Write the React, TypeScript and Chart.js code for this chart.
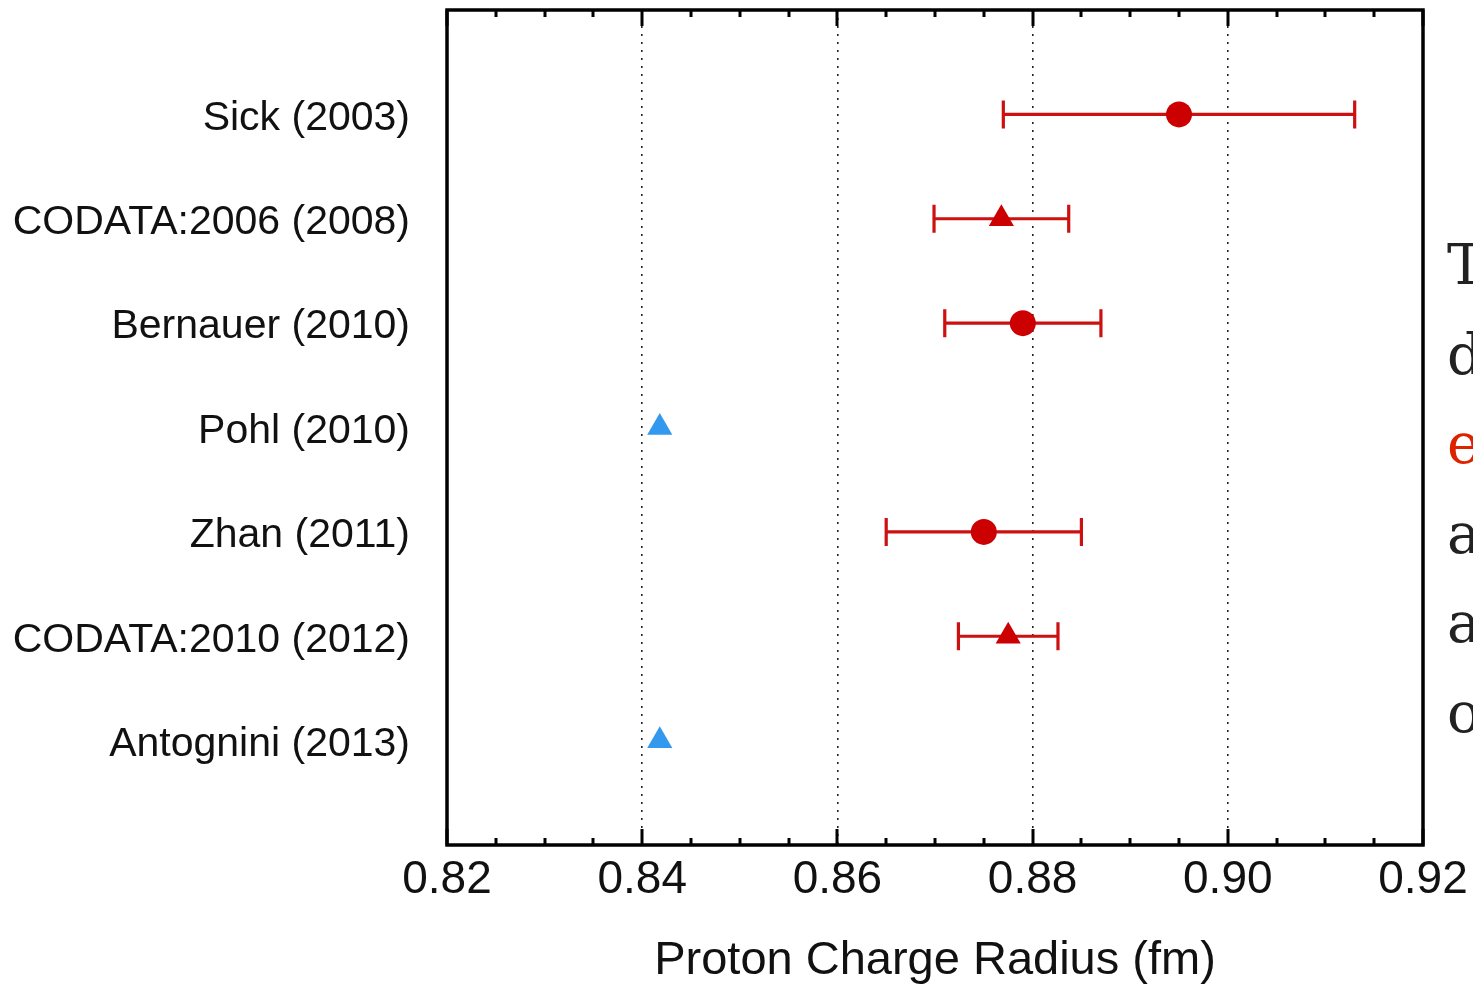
import React, { useEffect, useRef } from "react";
import { Chart, registerables } from "chart.js";

Chart.register(...registerables);

const LABELS = [
  "Sick (2003)",
  "CODATA:2006 (2008)",
  "Bernauer (2010)",
  "Pohl (2010)",
  "Zhan (2011)",
  "CODATA:2010 (2012)",
  "Antognini (2013)",
];
const RADIUS = [0.895, 0.8768, 0.879, 0.8418, 0.875, 0.8775, 0.8418];
const ERR_LOW = [0.018, 0.0069, 0.008, 0, 0.010, 0.0051, 0];
const ERR_HIGH = [0.018, 0.0069, 0.008, 0, 0.010, 0.0051, 0];
const MARKER = ["circle", "triangle", "circle", "triangle", "circle", "triangle", "triangle"];
const METHOD = ["e", "e", "e", "mu", "e", "e", "mu"];
const X_TICKS = [0.82, 0.84, 0.86, 0.88, 0.9, 0.92];

const RED = "#cc0000";
const BLUE = "#3399ee";

const framePlugin = {
  id: "frame",
  beforeDatasetsDraw(chart: any) {
    const { ctx, scales } = chart;
    const x = scales.x;
    const y = scales.y;
    ctx.save();
    ctx.strokeStyle = "#cc1111";
    ctx.lineWidth = 3.2;
    RADIUS.forEach((v, i) => {
      if (!ERR_LOW[i] && !ERR_HIGH[i]) return;
      const yy = y.getPixelForValue(i);
      const x0 = x.getPixelForValue(v - ERR_LOW[i]);
      const x1 = x.getPixelForValue(v + ERR_HIGH[i]);
      ctx.beginPath();
      ctx.moveTo(x0, yy);
      ctx.lineTo(x1, yy);
      ctx.moveTo(x0, yy - 14);
      ctx.lineTo(x0, yy + 14);
      ctx.moveTo(x1, yy - 14);
      ctx.lineTo(x1, yy + 14);
      ctx.stroke();
    });
    ctx.restore();
  },
  afterDraw(chart: any) {
    const { ctx, chartArea, scales } = chart;
    const x = scales.x;
    const { left, right, top, bottom } = chartArea;
    ctx.save();
    ctx.strokeStyle = "#000";
    ctx.lineWidth = 3;
    const min = x.min;
    const max = x.max;
    for (let k = 0; ; k++) {
      const v = min + k * 0.005;
      if (v > max + 1e-9) break;
      const px = Math.round(x.getPixelForValue(v));
      const major = k % 4 === 0;
      const len = major ? 16 : 7;
      ctx.beginPath();
      ctx.moveTo(px, top);
      ctx.lineTo(px, top + len);
      ctx.moveTo(px, bottom);
      ctx.lineTo(px, bottom - len);
      ctx.stroke();
    }
    ctx.lineWidth = 3.5;
    ctx.strokeRect(left, top, right - left, bottom - top);
    ctx.restore();
  },
};

export default function App() {
  const ref = useRef<HTMLCanvasElement | null>(null);
  useEffect(() => {
    if (!ref.current) return;
    const chart = new Chart(ref.current, {
      type: "scatter",
      data: {
        datasets: [
          {
            data: RADIUS.map((v, i) => ({ x: v, y: i })),
            pointStyle: MARKER as any,
            pointRadius: MARKER.map((m) => (m === "circle" ? 13 : 14.5)),
            pointBackgroundColor: METHOD.map((m) => (m === "e" ? RED : BLUE)),
            pointBorderColor: METHOD.map((m) => (m === "e" ? RED : BLUE)),
            pointBorderWidth: 0,
          },
        ],
      },
      plugins: [framePlugin],
      options: {
        animation: false,
        responsive: false,
        layout: { autoPadding: false, padding: { left: 0, top: 10, right: 50, bottom: 0 } },
        plugins: { legend: { display: false }, tooltip: { enabled: false } },
        scales: {
          x: {
            type: "linear",
            min: 0.82,
            max: 0.92,
            afterBuildTicks: (s: any) => {
              s.ticks = X_TICKS.map((v) => ({ value: v }));
            },
            afterFit: (s: any) => {
              s.height = 144;
              s.paddingLeft = 0;
              s.paddingRight = 0;
            },
            grid: {
              drawTicks: false,
              lineWidth: 1.6,
              color: (c: any) =>
                c.tick && (Math.abs(c.tick.value - 0.82) < 1e-6 || Math.abs(c.tick.value - 0.92) < 1e-6)
                  ? "rgba(0,0,0,0)"
                  : "#222",
            },
            border: { display: false, dash: [2, 6] },
            ticks: {
              padding: 8,
              color: "#111",
              font: { family: "Liberation Sans, Arial, sans-serif", size: 46 },
              maxRotation: 0,
              autoSkip: false,
              callback: (v: any) => Number(v).toFixed(2),
            },
            title: {
              display: true,
              text: "Proton Charge Radius (fm)",
              color: "#111",
              font: { family: "Liberation Sans, Arial, sans-serif", size: 47 },
              padding: { top: 0, bottom: 0 },
            },
          },
          y: {
            type: "linear",
            min: -1,
            max: 7,
            reverse: true,
            afterFit: (s: any) => {
              s.width = 447;
              s.paddingTop = 0;
              s.paddingBottom = 0;
            },
            grid: { display: false, drawTicks: false },
            border: { display: false },
            ticks: {
              stepSize: 1,
              padding: 37,
              labelOffset: 4,
              color: "#111",
              font: { family: "Liberation Sans, Arial, sans-serif", size: 41 },
              autoSkip: false,
              callback: (v: any) => {
                const i = Number(v);
                return Number.isInteger(i) && i >= 0 && i < LABELS.length ? LABELS[i] : "";
              },
            },
          },
        },
      },
    });
    return () => chart.destroy();
  }, []);

  const side = ["T", "d", "e", "a", "a", "o"];
  return (
    <div
      style={{
        position: "fixed",
        left: 0,
        top: 0,
        width: 1473,
        height: 989,
        overflow: "hidden",
        background: "#fff",
      }}
    >
      <canvas ref={ref} width={1473} height={989} style={{ position: "absolute", left: 0, top: 0 }} />
      <div
        style={{
          position: "absolute",
          left: 1447,
          top: 220,
          fontFamily: "'DejaVu Serif', serif",
          fontSize: 56,
          lineHeight: "89.5px",
          color: "#222",
          whiteSpace: "nowrap",
        }}
      >
        {side.map((s, i) => (
          <div key={i} style={{ color: i === 2 ? "#dd2200" : "#222" }}>
            {s}
          </div>
        ))}
      </div>
    </div>
  );
}
